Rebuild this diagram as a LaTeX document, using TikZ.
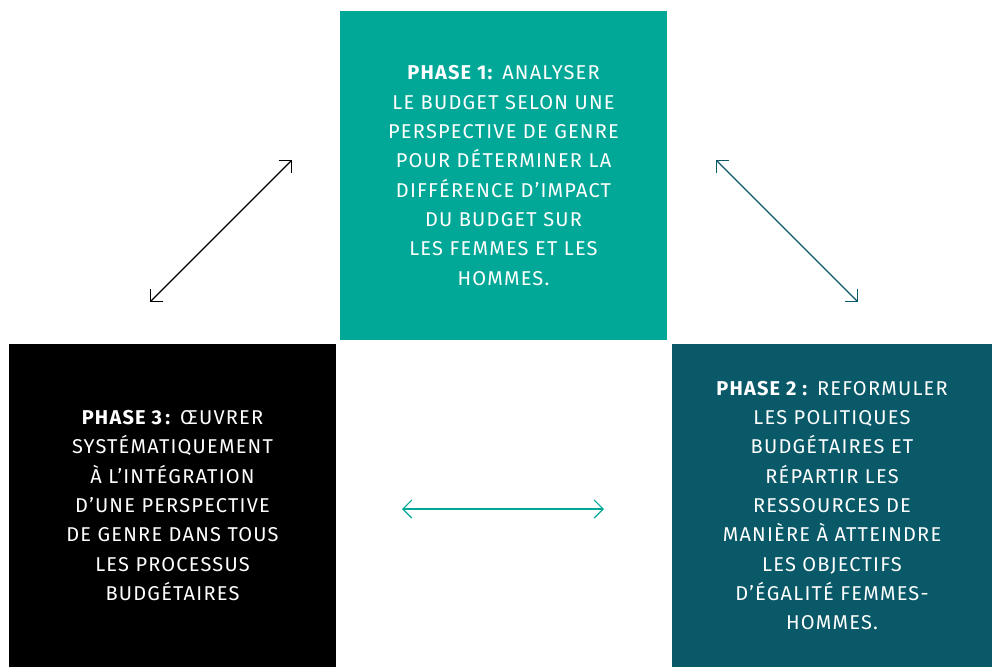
\documentclass[tikz,border=0pt]{standalone}
\usepackage{fontspec}
\setmainfont{Fira Sans}[LetterSpace=6]
\usetikzlibrary{arrows.meta, positioning}
\definecolor{phasegreen}{RGB}{2, 168, 151}
\definecolor{phasepetrol}{RGB}{9, 89, 105}

\begin{document}
\begin{tikzpicture}[x=1pt, y=-1pt,
        phase/.style={rectangle, inner sep=0pt, align=center, text=white, font=\fontsize{20}{29.3}\selectfont},
        link/.style={{Straight Barb[length=9pt, width=18pt]}-{Straight Barb[length=9pt, width=18pt]}, line width=1.1pt}
    ]
        \useasboundingbox (0, 0) rectangle (992, 667);

        \node[phase, fill=phasegreen, minimum width=327pt, minimum height=329pt] (phase1) at (503.5, 175.5) {\textbf{PHASE 1:} ANALYSER\\LE BUDGET SELON UNE\\PERSPECTIVE DE GENRE\\POUR DÉTERMINER LA\\DIFFÉRENCE D’IMPACT\\DU BUDGET SUR\\LES FEMMES ET LES\\HOMMES.};
        \node[phase, fill=black, minimum width=327pt, minimum height=323pt] (phase3) at (172.5, 505.5) {\textbf{PHASE 3\,:} ŒUVRER\\SYSTÉMATIQUEMENT\\À L’INTÉGRATION\\D’UNE PERSPECTIVE\\DE GENRE DANS TOUS\\LES PROCESSUS\\BUDGÉTAIRES};
        \node[phase, fill=phasepetrol, minimum width=320pt, minimum height=323pt] (phase2) at (832, 505.5) {\textbf{PHASE 2 :} REFORMULER\\LES POLITIQUES\\BUDGÉTAIRES ET\\RÉPARTIR LES\\RESSOURCES DE\\MANIÈRE À ATTEINDRE\\LES OBJECTIFS\\D’ÉGALITÉ FEMMES-\\HOMMES.};

        \coordinate (left low) at (150, 302);
        \coordinate (left high) at (292, 160);
        \coordinate (right high) at (716, 160);
        \coordinate (right low) at (858, 302);
        \coordinate (mid left) at (402, 509);
        \coordinate (mid right) at (604, 509);

        \draw[link, black] (left low) -- (left high);
        \draw[link, phasepetrol] (right high) -- (right low);
        \draw[link, phasegreen] (mid left) -- (mid right);
    \end{tikzpicture}
\end{document}
